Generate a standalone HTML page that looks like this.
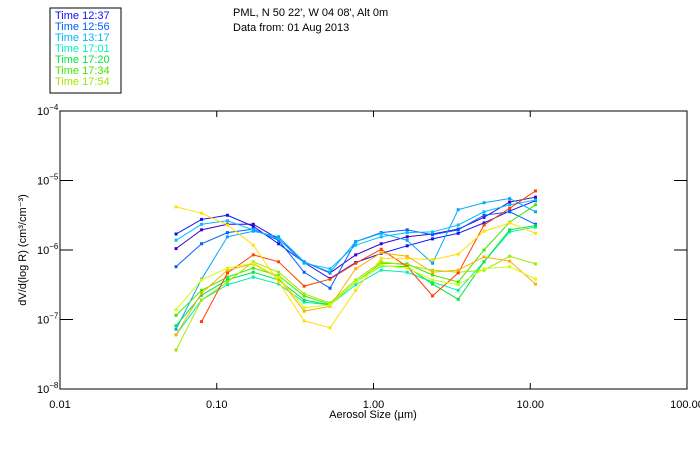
<!DOCTYPE html>
<html><head><meta charset="utf-8">
<style>
body{margin:0;background:#fff;}
svg{display:block;font-family:"Liberation Sans","DejaVu Sans",sans-serif;}
</style></head>
<body>
<svg id="chart" width="700" height="450">
<rect x="50" y="8" width="71" height="85" fill="#fff" stroke="#000" stroke-width="1"/>
<g id="legend"></g>
<text x="233" y="16" font-size="11" fill="#000">PML, N 50 22', W 04 08', Alt 0m</text>
<text x="233" y="31" font-size="11" fill="#000">Data from: 01 Aug 2013</text>
<rect x="60" y="111" width="627" height="278" fill="none" stroke="#000" stroke-width="1"/>
<g id="axes"></g>
<g id="series"></g>
<text x="373" y="418" font-size="11" text-anchor="middle" fill="#000">Aerosol Size (µm)</text>
<text transform="translate(26,250) rotate(-90)" font-size="11" text-anchor="middle" fill="#000">dV/d(log R) (cm³/cm⁻³)</text>
</svg>
<script>
// sizes (µm)
const sizes = [0.055,0.080,0.117,0.171,0.248,0.361,0.528,0.770,1.12,1.64,2.38,3.47,5.07,7.39,10.8];
const xTicks = [0.01,0.1,1,10,100];
const xTickLabels = ["0.01","0.10","1.00","10.00","100.00"];
const yTickExps = [-4,-5,-6,-7,-8];
const legendTimes = ["12:37","12:56","13:17","17:01","17:20","17:34","17:54"];
const legendColors = ["#1010ff","#0060ff","#00b8ff","#00f0c0","#00e840","#40e800","#a0e800"];
const seriesColors = ["#1010ff","#4000d0","#0060ff","#00c0ff","#00a8ff","#00f0b0","#00e840","#40e800","#a0e800","#ff4000","#ffe000","#ffb000","#d0ff00"];
// log10 of dV/dlogR for each series
const s1237 = [-5.77,-5.56,-5.50,-5.66,-5.91,-6.18,-6.41,-6.18,-6.05,-5.94,-5.84,-5.76,-5.61,-5.44,-5.29];
const sPurple = [-5.98,-5.71,-5.63,-5.63,-5.84,-6.17,-6.33,-6.07,-5.91,-5.81,-5.77,-5.70,-5.53,-5.31,-5.24];
const s1256 = [-6.24,-5.91,-5.75,-5.70,-5.86,-6.32,-6.55,-5.88,-5.75,-5.71,-5.78,-5.71,-5.50,-5.45,-5.63];
const s1317 = [-5.86,-5.63,-5.58,-5.71,-5.84,-6.19,-6.27,-5.93,-5.81,-5.75,-5.74,-5.64,-5.45,-5.35,-5.28];
const sSky = [-7.14,-6.42,-5.81,-5.73,-5.81,-6.17,-6.32,-5.88,-5.76,-5.86,-6.19,-5.42,-5.32,-5.26,-5.45];
const s1701 = [-7.22,-6.72,-6.50,-6.39,-6.49,-6.75,-6.79,-6.50,-6.29,-6.32,-6.46,-6.58,-6.17,-5.74,-5.67];
const s1720 = [-7.09,-6.65,-6.43,-6.32,-6.43,-6.72,-6.79,-6.46,-6.23,-6.24,-6.49,-6.71,-6.17,-5.71,-5.65];
const s1734 = [-6.94,-6.58,-6.39,-6.26,-6.37,-6.66,-6.78,-6.46,-6.19,-6.20,-6.36,-6.46,-6.00,-5.60,-5.35];
const s1754 = [-7.44,-6.72,-6.46,-6.17,-6.32,-6.63,-6.76,-6.43,-6.17,-6.22,-6.29,-6.32,-6.29,-6.09,-6.20];
const sRed = [null,-7.03,-6.33,-6.07,-6.17,-6.52,-6.42,-6.19,-5.99,-6.24,-6.66,-6.33,-5.64,-5.40,-5.15];
const sYellow = [-5.38,-5.47,-5.64,-5.93,-6.46,-7.02,-7.12,-6.58,-6.12,-6.12,-6.14,-6.06,-5.73,-5.61,-5.76];
const sOrange = [-7.22,-6.62,-6.29,-6.20,-6.40,-6.88,-6.81,-6.27,-6.04,-6.09,-6.32,-6.29,-6.10,-6.16,-6.49];
const sLime = [-6.86,-6.43,-6.26,-6.19,-6.39,-6.83,-6.79,-6.46,-6.22,-6.26,-6.43,-6.50,-6.27,-6.24,-6.42];
const allSeries = [s1237,sPurple,s1256,s1317,sSky,s1701,s1720,s1734,s1754,sRed,sYellow,sOrange,sLime];
const seriesNames = ["12-37","purple","12-56","13-17","sky","17-01","17-20","17-34","17-54","red","yellow","orange","lime"];

const NS="http://www.w3.org/2000/svg";
const X0=60,X1=687,Y0=111,Y1=389;
function xScale(v){return X0+(Math.log10(v)+2)/4*(X1-X0);}
function yScale(lv){return Y0+(-4-lv)/4*(Y1-Y0);}
function mk(t,a,p){const e=document.createElementNS(NS,t);for(const k in a)e.setAttribute(k,a[k]);p.appendChild(e);return e;}

const axes=document.getElementById('axes');
xTicks.forEach((t,i)=>{
  const x=xScale(t);
  const b=mk('line',{x1:x,x2:x,y1:Y1,y2:Y1-6,stroke:'#000'},axes);
  
  
  const tp=mk('line',{x1:x,x2:x,y1:Y0,y2:Y0+6,stroke:'#000'},axes);
  
  
  const l=mk('text',{x:x,y:408,'font-size':11,'text-anchor':'middle',fill:'#000'},axes);
  l.textContent=xTickLabels[i];
  
  
});
yTickExps.forEach(e=>{
  const y=yScale(e);
  const a=mk('line',{x1:X0,x2:X0+13,y1:y,y2:y,stroke:'#000'},axes);
  
  
  const r=mk('line',{x1:X1,x2:X1-13,y1:y,y2:y,stroke:'#000'},axes);
  
  
  const t=mk('text',{x:37,y:y+4,'font-size':11,fill:'#000'},axes);
  
  
  t.textContent='10';
  const s=mk('tspan',{dy:-5,'font-size':8},t);
  s.textContent=String(e).replace('-','−');
});

const sg=document.getElementById('series');
allSeries.forEach((vals,si)=>{
  const g=mk('g',{},sg);
  
  
  const pts=[];
  vals.forEach((v,i)=>{if(v!==null)pts.push([xScale(sizes[i]),yScale(v)]);});
  const pl=mk('polyline',{points:pts.map(p=>p.join(',')).join(' '),fill:'none',stroke:seriesColors[si],'stroke-width':1},g);
  
  
  pts.forEach(p=>{
    const m=mk('rect',{x:p[0]-1.5,y:p[1]-1.5,width:3,height:3,fill:seriesColors[si]},g);
    
    
  });
});

const lg=document.getElementById('legend');
legendTimes.forEach((t,i)=>{
  const e=mk('text',{x:55,y:19+i*11,'font-size':11,fill:legendColors[i]},lg);
  e.textContent='Time '+t;
  
  
});
</script>
</body></html>
